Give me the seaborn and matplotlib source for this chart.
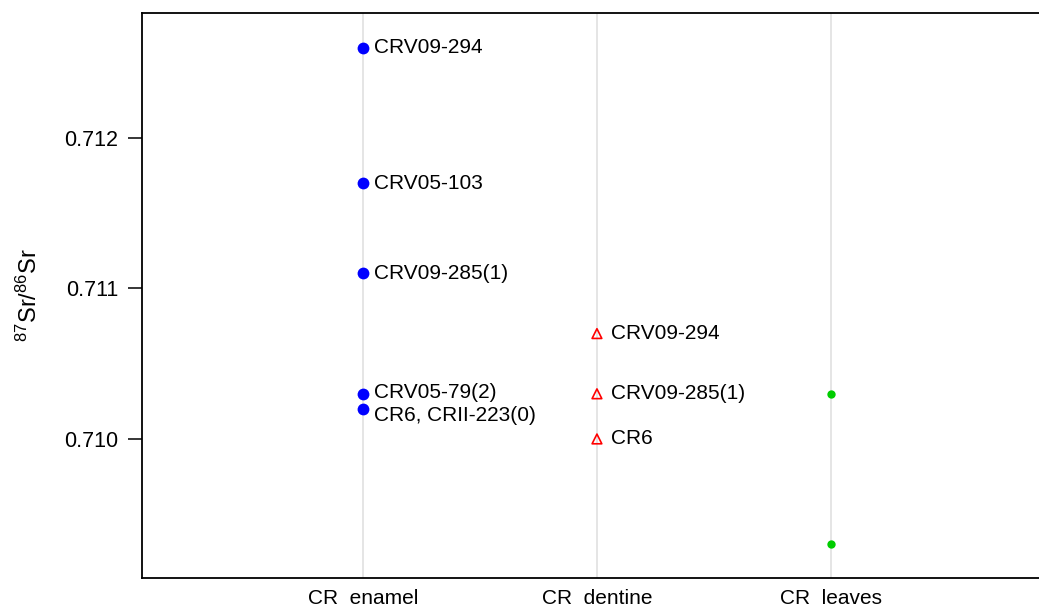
import pandas as pd
import seaborn as sns
import matplotlib
matplotlib.use("Agg")
import matplotlib.pyplot as plt
from matplotlib.ticker import FormatStrFormatter

# data
categorias = ["CR  enamel", "CR  dentine", "CR  leaves"]

enamel_vals = [0.7126, 0.7117, 0.7111, 0.7103, 0.7102]
enamel_labels = ["CRV09-294", "CRV05-103", "CRV09-285(1)", "CRV05-79(2)", "CR6, CRII-223(0)"]

dentine_vals = [0.7107, 0.7103, 0.7100]
dentine_labels = ["CRV09-294", "CRV09-285(1)", "CR6"]

leaves_vals = [0.7103, 0.7093]

df_en = pd.DataFrame({"tecido": categorias[0], "sr": enamel_vals, "rotulo": enamel_labels})
df_de = pd.DataFrame({"tecido": categorias[1], "sr": dentine_vals, "rotulo": dentine_labels})
df_le = pd.DataFrame({"tecido": categorias[2], "sr": leaves_vals})

sns.set_style("white")
plt.rcParams["font.family"] = ["Liberation Sans", "DejaVu Sans"]
plt.rcParams["mathtext.fontset"] = "custom"
plt.rcParams["mathtext.rm"] = "Liberation Sans"
plt.rcParams["mathtext.it"] = "Liberation Sans"
plt.rcParams["text.color"] = "black"
plt.rcParams["axes.labelcolor"] = "black"
plt.rcParams["xtick.color"] = "black"
plt.rcParams["ytick.color"] = "black"

fig = plt.figure(figsize=(10.39, 6.09), dpi=100)
ax = fig.add_axes([142 / 1039, 31 / 609, (1065 - 142) / 1039, 565 / 609])

# linhas verticais cinzas
for i in range(len(categorias)):
    ax.axvline(i, color="#e5e5e5", lw=1.4, zorder=0)

sns.stripplot(data=df_en, x="tecido", y="sr", order=categorias, jitter=False,
              color="#0000ff", marker="o", size=8.5, linewidth=0, ax=ax, zorder=3)
n0 = len(ax.collections)
sns.stripplot(data=df_de, x="tecido", y="sr", order=categorias, jitter=False,
              color="#ff0000", marker="^", size=7, linewidth=1.2, ax=ax, zorder=3)
for col in ax.collections[n0:]:
    col.set_facecolor("none")
    col.set_edgecolor("#ff0000")
    col.set_linewidth(1.2)
sns.stripplot(data=df_le, x="tecido", y="sr", order=categorias, jitter=False,
              color="#00cd00", marker="o", size=6, linewidth=0, ax=ax, zorder=3)

# rotulos
desloc_en = [0, 0, 0, 1, -5]
for (_, r), dy in zip(df_en.iterrows(), desloc_en):
    ax.annotate(r["rotulo"], (categorias.index(r["tecido"]), r["sr"]),
                xytext=(8, dy), textcoords="offset points", va="center",
                fontsize=15)
for _, r in df_de.iterrows():
    ax.annotate(r["rotulo"], (categorias.index(r["tecido"]), r["sr"]),
                xytext=(10, 0), textcoords="offset points", va="center",
                fontsize=15)

ax.set_xlim(-0.944, 3.0)
ax.set_ylim(0.709076, 0.71283)
ax.set_yticks([0.710, 0.711, 0.712])
ax.yaxis.set_major_formatter(FormatStrFormatter("%.3f"))
ax.tick_params(axis="y", length=10, width=1.1, direction="out", labelsize=15.5, pad=7, left=True)
ax.tick_params(axis="x", length=0, labelsize=15, pad=8)
ax.set_xlabel("")
ax.set_ylabel(r"$^{87}$Sr/$^{86}$Sr", fontsize=17, labelpad=16)

for s in ax.spines.values():
    s.set_color("black")
    s.set_linewidth(1.3)

fig.savefig("out.png", dpi=100)
